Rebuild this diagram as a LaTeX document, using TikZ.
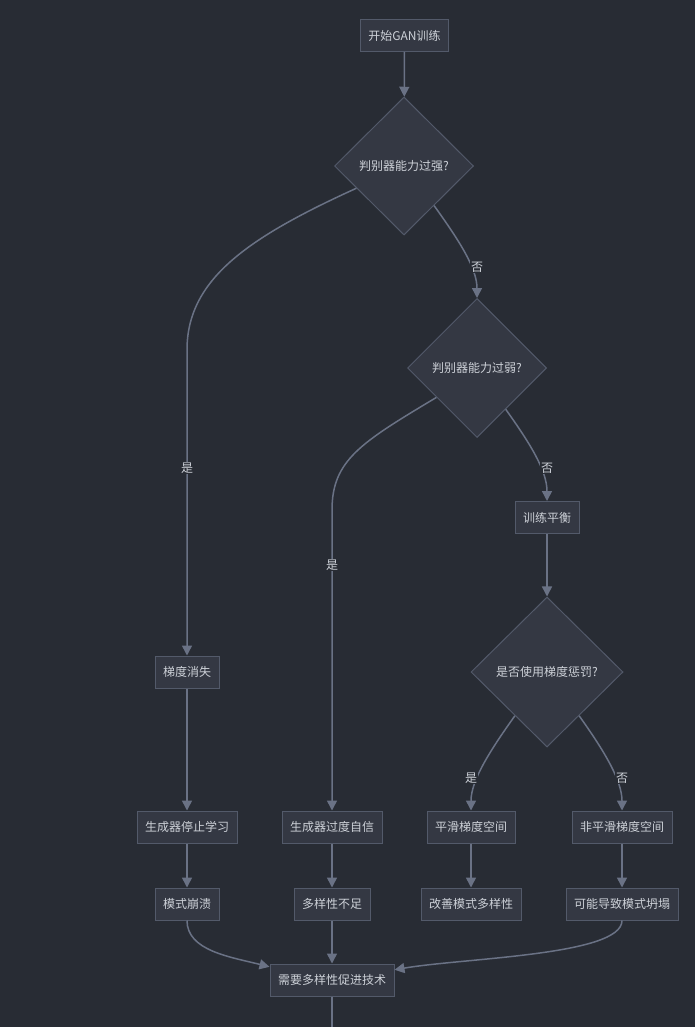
\documentclass[tikz,border=0pt]{standalone}
\usepackage{fontspec}
\setmainfont{Noto Sans CJK SC}
\usetikzlibrary{arrows.meta,shapes.geometric,calc}
\definecolor{bg}{HTML}{282C34}
\definecolor{nodefill}{HTML}{343843}
\definecolor{nodeline}{HTML}{535A6A}
\definecolor{edgecol}{HTML}{6A7285}
\definecolor{txt}{HTML}{CDD1D8}
\tikzset{
  box/.style={draw=nodeline, fill=nodefill, line width=1pt, text=txt, font=\fontsize{12pt}{14pt}\selectfont,
    minimum height=32pt, inner xsep=8pt, inner ysep=0pt},
  dia/.style={diamond, draw=nodeline, fill=nodefill, line width=1pt, text=txt, font=\fontsize{12pt}{14pt}\selectfont,
    inner sep=0pt},
  edge/.style={draw=edgecol, line width=1.5pt, -{Triangle[length=10pt,width=10pt]}},
  plain/.style={draw=edgecol, line width=1.5pt},
  lbl/.style={fill=bg, text=txt, font=\fontsize{12pt}{14pt}\selectfont, inner sep=1pt}
}
\begin{document}
\begin{tikzpicture}[x=1pt,y=-1pt]
\fill[bg] (0,0) rectangle (695,1027);
\useasboundingbox (0,0) rectangle (695,1027);

\node[box] (s) at (404.5,35.5) {开始GAN训练};
\node[dia, minimum width=139pt, minimum height=138pt] (d1) at (404,166) {判别器能力过强?};
\node[dia, minimum width=139pt, minimum height=139pt] (d2) at (477,368) {判别器能力过弱?};
\node[box] (tb) at (547,517.5) {训练平衡};
\node[dia, minimum width=152pt, minimum height=150pt] (d3) at (547,672) {是否使用梯度惩罚?};
\node[box] (g1) at (187,672) {梯度消失};
\node[box] (g2) at (187,827) {生成器停止学习};
\node[box] (g3) at (187,904) {模式崩溃};
\node[box] (o1) at (332,827) {生成器过度自信};
\node[box] (o2) at (332,904) {多样性不足};
\node[box] (p1) at (471,827) {平滑梯度空间};
\node[box] (p2) at (471,904) {改善模式多样性};
\node[box] (q1) at (622,827) {非平滑梯度空间};
\node[box] (q2) at (622,904) {可能导致模式坍塌};
\node[box] (need) at (332,980) {需要多样性促进技术};
\coordinate (bot) at (332,1027);

\draw[edge] (s) -- (d1);
\draw[edge] ($(d1.west)!0.32!(d1.south)$) .. controls +(-110,50) and +(0,-70) .. (g1.north |- 0,350) -- (g1.north);
\draw[edge] ($(d1.south)!0.43!(d1.east)$) .. controls +(25,35) and +(0,-30) .. (d2.north);
\draw[edge] ($(d2.west)!0.42!(d2.south)$) .. controls +(-75,45) and +(0,-50) .. (o1.north |- 0,510) -- (o1.north);
\draw[edge] ($(d2.south)!0.41!(d2.east)$) .. controls +(25,35) and +(0,-30) .. (tb.north);
\draw[edge] (tb) -- (d3);
\draw[edge] ($(d3.west)!0.58!(d3.south)$) .. controls +(-25,35) and +(0,-30) .. (p1.north);
\draw[edge] ($(d3.south)!0.42!(d3.east)$) .. controls +(25,35) and +(0,-30) .. (q1.north);
\draw[edge] (g1) -- (g2);
\draw[edge] (g2) -- (g3);
\draw[edge] (o1) -- (o2);
\draw[edge] (p1) -- (p2);
\draw[edge] (q1) -- (q2);
\draw[edge] (o2) -- (need);
\draw[edge] (g3.south) .. controls +(0,30) and +(-40,-10) .. ($(need.north west)!0.1!(need.south west)$);
\draw[edge] (q2.south) .. controls +(0,35) and +(70,-12) .. ($(need.north east)!0.19!(need.south east)$);
\draw[plain] (need.south) -- (bot);

\node[lbl] (l1) at (187,468) {是};
\node[lbl] (l2) at (477,267) {否};
\node[lbl] (l3) at (332,565) {是};
\node[lbl] (l4) at (547,468) {否};
\node[lbl] (l5) at (471,778) {是};
\node[lbl] (l6) at (622,778) {否};
\end{tikzpicture}
\end{document}
